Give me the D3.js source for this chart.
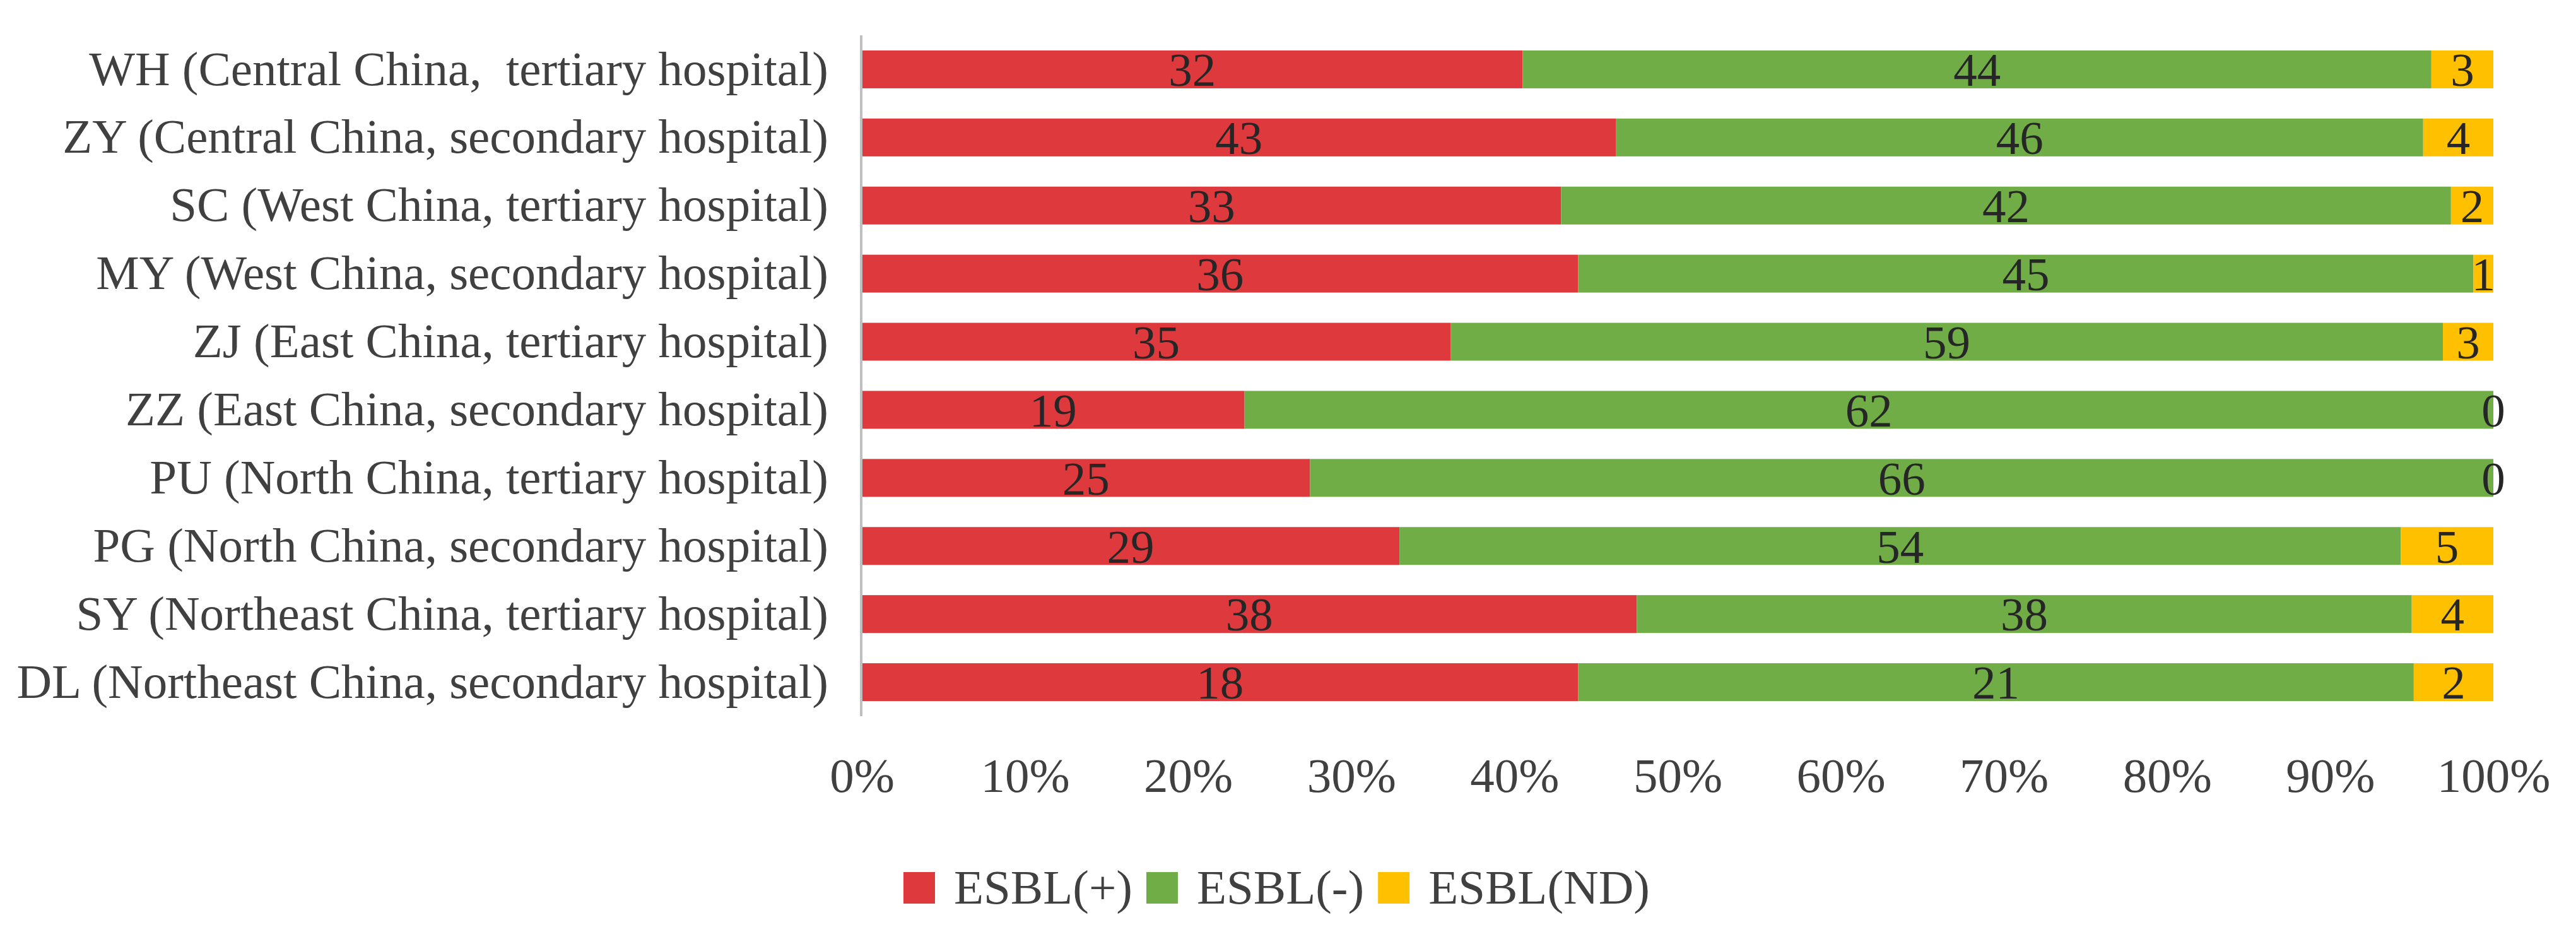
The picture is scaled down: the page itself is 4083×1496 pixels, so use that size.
<!DOCTYPE html>
<html>
<head>
<meta charset="utf-8">
<script src="https://cdn.jsdelivr.net/npm/d3@7"></script>
<style>
  html, body { margin: 0; padding: 0; background: #ffffff; }
  svg { display: block; }
  text { font-family: "Liberation Serif", "Times New Roman", serif; }
</style>
</head>
<body>
<svg id="chart" width="4083" height="1496"></svg>
<script>
// ---- data ----
const categories = [
  "WH (Central China,  tertiary hospital)",
  "ZY (Central China, secondary hospital)",
  "SC (West China, tertiary hospital)",
  "MY (West China, secondary hospital)",
  "ZJ (East China, tertiary hospital)",
  "ZZ (East China, secondary hospital)",
  "PU (North China, tertiary hospital)",
  "PG (North China, secondary hospital)",
  "SY (Northeast China, tertiary hospital)",
  "DL (Northeast China, secondary hospital)"
];
const seriesNames = ["ESBL(+)", "ESBL(-)", "ESBL(ND)"];
const esblPos = [32, 43, 33, 36, 35, 19, 25, 29, 38, 18];
const esblNeg = [44, 46, 42, 45, 59, 62, 66, 54, 38, 21];
const esblND  = [3, 4, 2, 1, 3, 0, 0, 5, 4, 2];
const tickValues = [0, 0.1, 0.2, 0.3, 0.4, 0.5, 0.6, 0.7, 0.8, 0.9, 1.0];
const colors = ["#DE3A3E", "#70AD47", "#FFC000"];

// ---- layout ----
const svg = d3.select("#chart");
const plotLeft = 1366, plotRight = 3952, plotTop = 56, plotBottom = 1135;

const rows = categories.map((c, i) => ({
  cat: c, vals: [esblPos[i], esblNeg[i], esblND[i]]
}));
const table = rows.map(r => {
  const tot = d3.sum(r.vals);
  const o = { cat: r.cat };
  seriesNames.forEach((s, j) => { o[s] = r.vals[j] / tot; o[s + "_n"] = r.vals[j]; });
  return o;
});

const stacked = d3.stack().keys(seriesNames)(table);

const x = d3.scaleLinear().domain([0, 1]).range([plotLeft, plotRight]);
const y = d3.scaleBand().domain(categories).range([plotTop, plotBottom])
  .paddingInner(0.444).paddingOuter(0.222);
const color = d3.scaleOrdinal().domain(seriesNames).range(colors);

// bars
const g = svg.append("g");
stacked.forEach(layer => {
  const key = layer.key;
  g.append("g").selectAll("rect").data(layer).join("rect")
    .attr("x", d => x(d[0]))
    .attr("y", d => y(d.data.cat))
    .attr("width", d => x(d[1]) - x(d[0]))
    .attr("height", y.bandwidth())
    .attr("fill", color(key));
});

// data labels
stacked.forEach(layer => {
  const key = layer.key;
  g.append("g").selectAll("text").data(layer).join("text")
    .attr("x", d => (x(d[0]) + x(d[1])) / 2)
    .attr("y", d => y(d.data.cat) + y.bandwidth() / 2)
    .attr("dy", "0.35em")
    .attr("text-anchor", "middle")
    .attr("font-size", 75)
    .attr("fill", "#262626")
    .text(d => d.data[key + "_n"]);
});

// y axis (vertical line + labels)
const yAxis = d3.axisLeft(y).tickSize(0).tickPadding(52);
const yg = svg.append("g").attr("transform", `translate(${plotLeft - 1},0)`).call(yAxis);
yg.select(".domain").attr("stroke", "#BFBFBF").attr("stroke-width", 4)
  .attr("d", `M0,${plotTop}V${plotBottom}`);
yg.selectAll(".tick text")
  .attr("font-size", 77)
  .attr("font-family", "Liberation Serif, Times New Roman, serif")
  .attr("fill", "#404040")
  .style("white-space", "pre");

// x axis labels
const xAxis = d3.axisBottom(x).tickValues(tickValues).tickSize(0).tickPadding(0)
  .tickFormat(d3.format(".0%"));
const xg = svg.append("g").attr("transform", `translate(0,1200)`).call(xAxis);
xg.select(".domain").remove();
xg.selectAll(".tick text")
  .attr("font-size", 77)
  .attr("font-family", "Liberation Serif, Times New Roman, serif")
  .attr("fill", "#404040")
  .attr("dy", null)
  .attr("y", 55);

// legend
const legend = svg.append("g").attr("transform", "translate(1432,1432)");
let lx = 0;
seriesNames.forEach((s, i) => {
  const item = legend.append("g").attr("transform", `translate(${lx},0)`);
  item.append("rect").attr("x", 0).attr("y", -50).attr("width", 50).attr("height", 50)
    .attr("fill", color(s));
  const t = item.append("text").attr("x", 80).attr("y", 0)
    .attr("font-size", 77).attr("fill", "#404040").text(s);
  const w = t.node().getComputedTextLength();
  lx += 80 + w + 22;
});
</script>
</body>
</html>
